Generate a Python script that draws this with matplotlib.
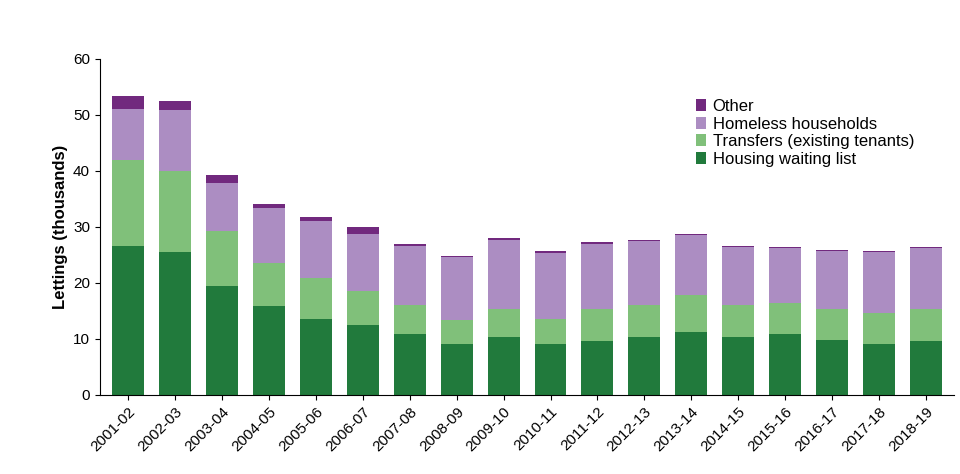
import matplotlib.pyplot as plt
import numpy as np

years = ['2001-02', '2002-03', '2003-04', '2004-05', '2005-06', '2006-07',
         '2007-08', '2008-09', '2009-10', '2010-11', '2011-12', '2012-13',
         '2013-14', '2014-15', '2015-16', '2016-17', '2017-18', '2018-19']
# cumulative tops (thousands)
waiting_top = [26.5, 25.5, 19.5, 15.9, 13.5, 12.5, 10.8, 9.1, 10.3, 9.0, 9.7, 10.3,
               11.3, 10.4, 10.8, 9.8, 9.1, 9.6]
transfer_top = [42.0, 40.0, 29.3, 23.6, 20.8, 18.6, 16.0, 13.4, 15.4, 13.6, 15.4, 16.1,
                17.9, 16.1, 16.4, 15.4, 14.7, 15.4]
homeless_top = [51.0, 50.8, 37.8, 33.3, 31.0, 28.8, 26.5, 24.6, 27.7, 25.4, 26.9, 27.4,
                28.5, 26.4, 26.2, 25.7, 25.5, 26.3]
other_top = [53.3, 52.5, 39.2, 34.0, 31.8, 30.0, 26.9, 24.8, 28.0, 25.7, 27.3, 27.6,
             28.7, 26.6, 26.4, 25.9, 25.7, 26.4]

waiting = np.array(waiting_top)
transfers = np.array(transfer_top) - waiting
homeless = np.array(homeless_top) - np.array(transfer_top)
other = np.array(other_top) - np.array(homeless_top)

plt.rcParams['font.family'] = 'Liberation Sans'
fig = plt.figure(figsize=(9.6, 4.74), dpi=100)
ax = fig.add_axes([0.104, 0.167, 0.89, 0.709])
x = np.arange(len(years))
w = 0.68
b1 = ax.bar(x, waiting, w, color='#217a3c', label='Housing waiting list')
b2 = ax.bar(x, transfers, w, bottom=waiting, color='#80c07a', label='Transfers (existing tenants)')
b3 = ax.bar(x, homeless, w, bottom=waiting + transfers, color='#ac8dc2', label='Homeless households')
b4 = ax.bar(x, other, w, bottom=waiting + transfers + homeless, color='#71297e', label='Other')

ax.set_ylim(0, 60)
ax.set_yticks(range(0, 61, 10))
ax.set_xlim(-0.6, len(years) - 0.4)
ax.set_xticks(x)
ax.set_xticklabels(years, rotation=45, ha='right', rotation_mode='anchor', fontsize=11)
ax.tick_params(axis='y', labelsize=11)
ax.set_ylabel('Lettings (thousands)', fontsize=12, fontweight='bold')
for s in ['top', 'right']:
    ax.spines[s].set_visible(False)
ax.legend(handles=[b4, b3, b2, b1], frameon=False, fontsize=12,
          loc='upper left', bbox_to_anchor=(0.69, 0.9), handlelength=0.6,
          handletextpad=0.4, labelspacing=0.15, borderaxespad=0)
fig.savefig('out.png')
